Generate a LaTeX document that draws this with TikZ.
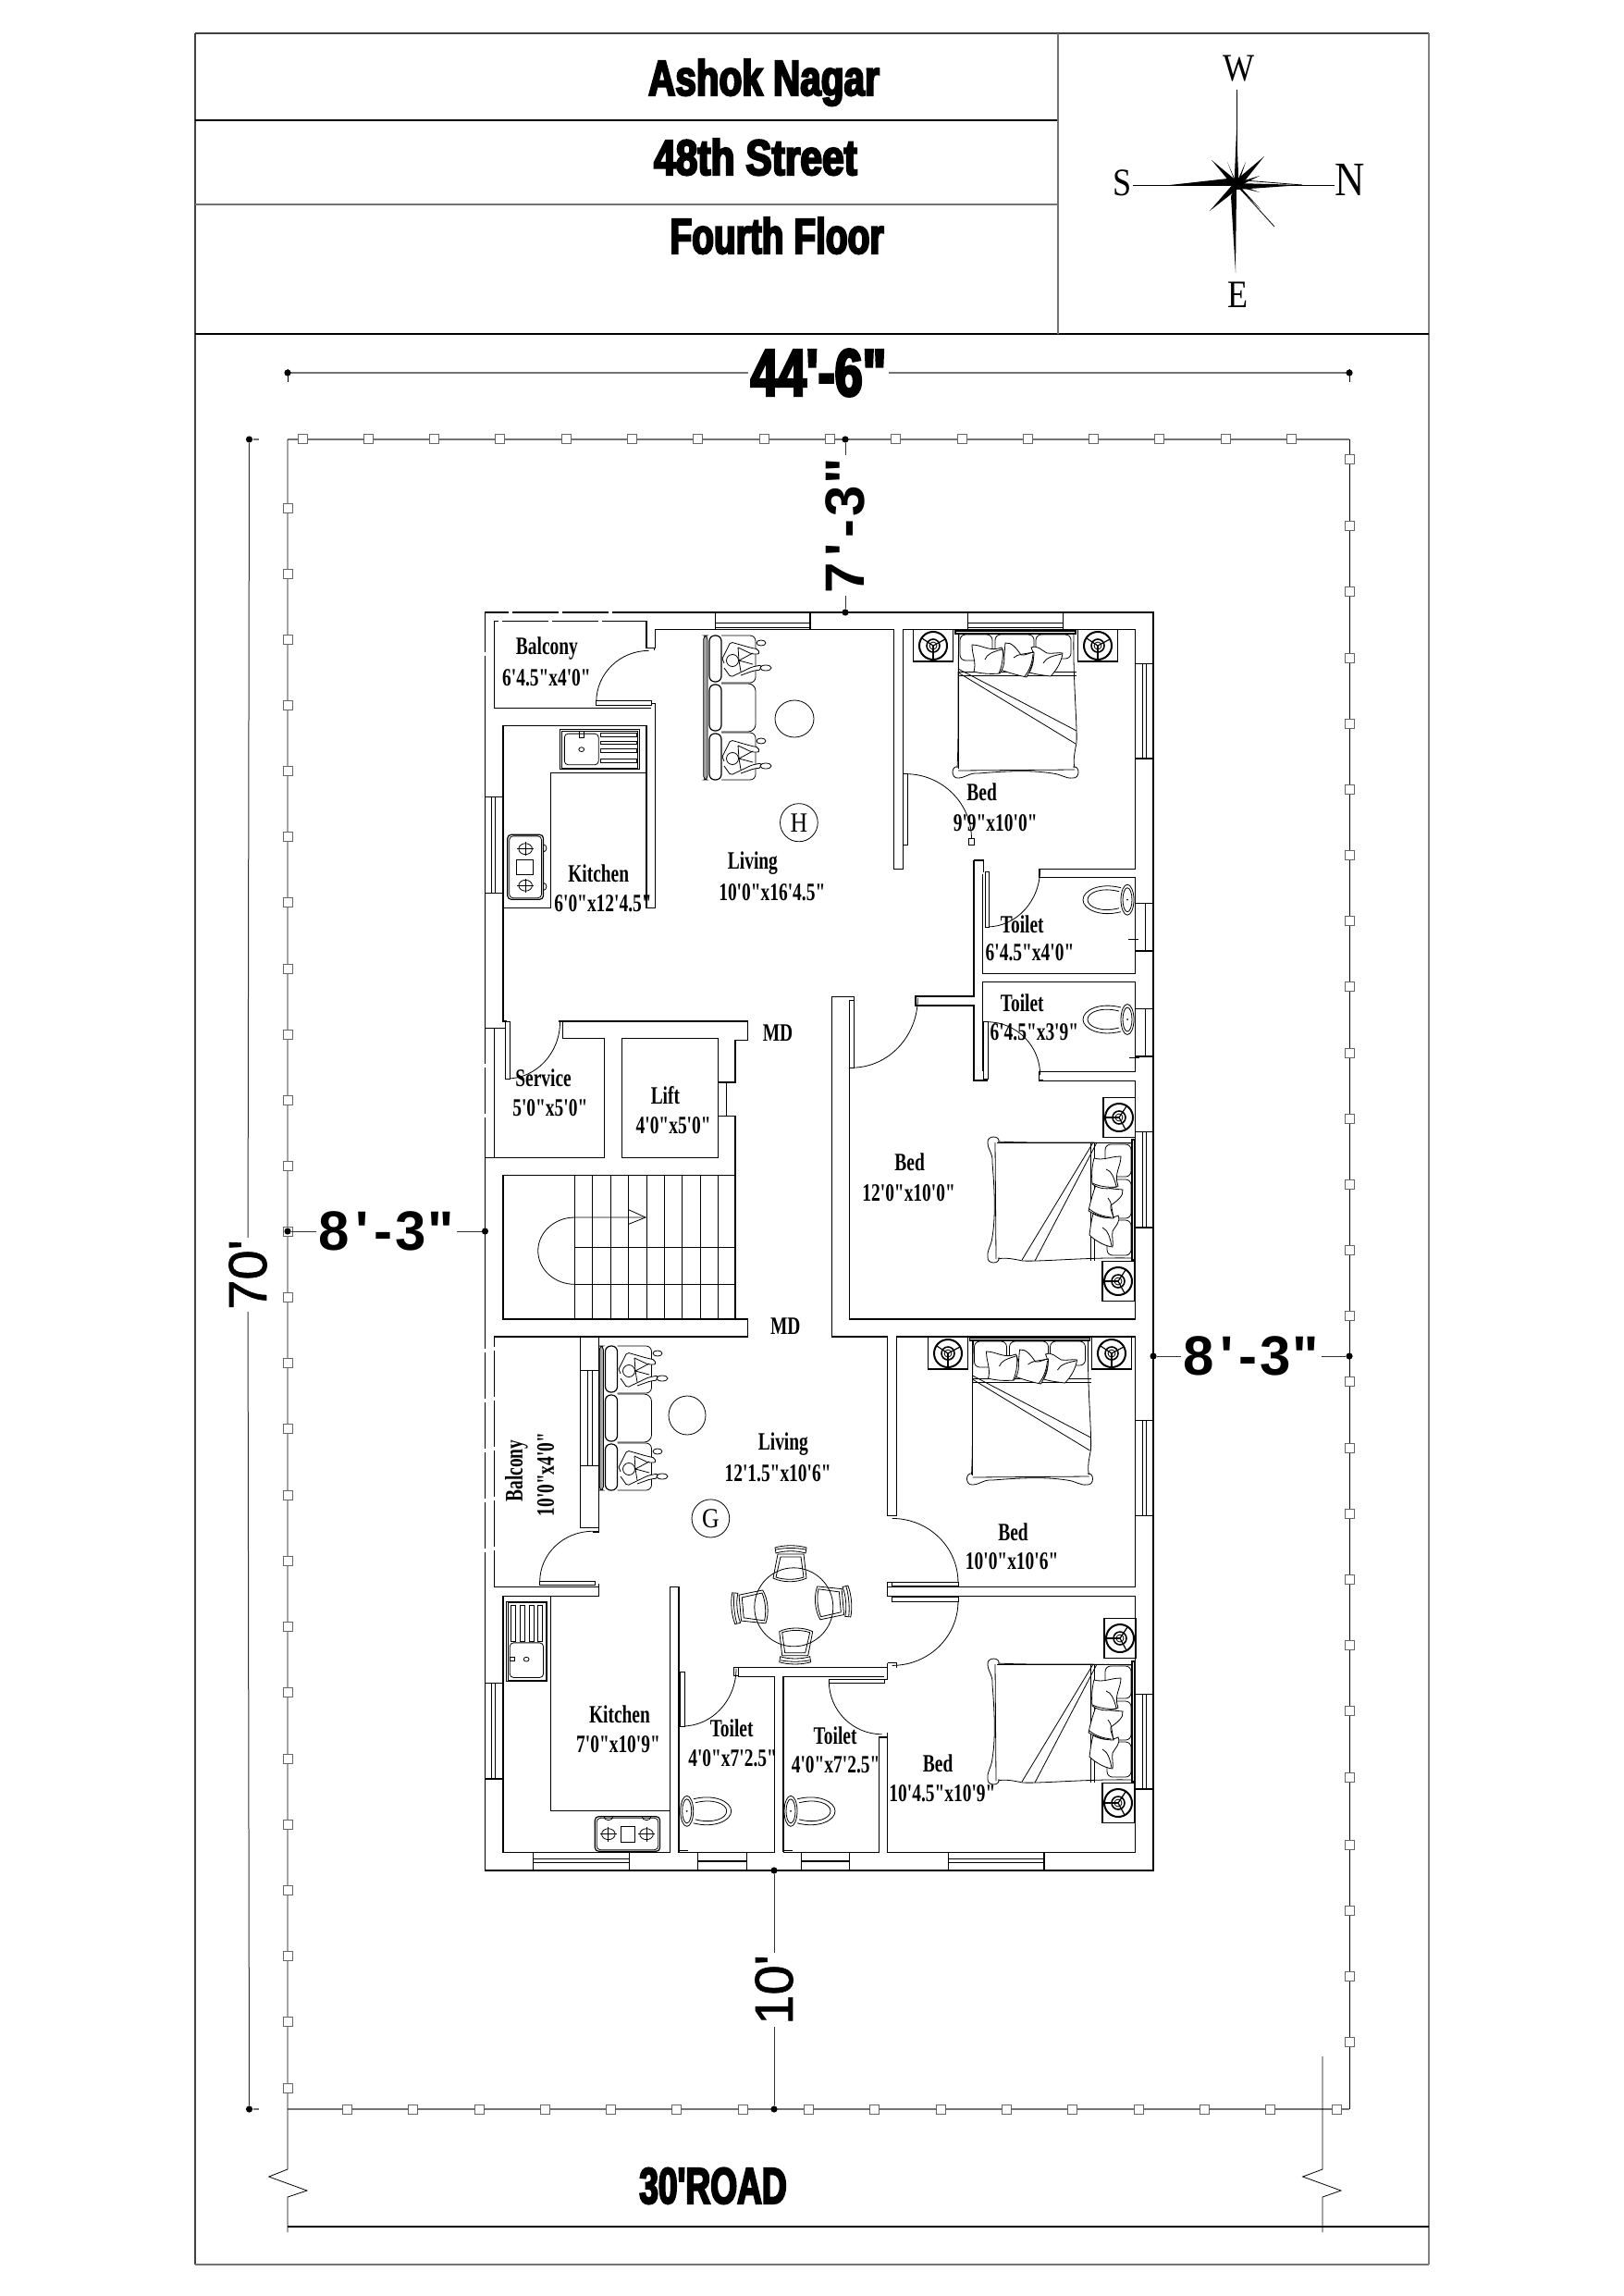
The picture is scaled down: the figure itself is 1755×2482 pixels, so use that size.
\documentclass[tikz,border=0pt]{standalone}
\usepackage{fontspec}
\usepackage{tikz}
\newfontfamily\roomfont[UprightFont=* Bold,FakeStretch=0.72]{Liberation Serif}
\newfontfamily\heavyfont[UprightFont=* Bold,FakeStretch=0.75,FakeBold=4]{Liberation Sans}
\newfontfamily\dimfont{Liberation Sans}
\newfontfamily\plainfont[FakeBold=1.2]{Liberation Sans}
\newfontfamily\compassfont[FakeStretch=0.86]{Liberation Serif}
\newcommand{\dimtext}[2]{#1\kern3pt'\kern3pt-\kern1.5pt#2\kern1pt"}

\tikzset{
  wall/.style={line width=0.6pt},
  fine/.style={line width=0.4pt},
  leaf/.style={line width=0.4pt, fill=white},
  frameline/.style={line width=0.8pt, black!75},
  plotline/.style={line width=0.9pt, black!55},
  dimline/.style={line width=0.5pt, black!80},
  gapmark/.style={white, line width=1pt, dash pattern=on 2pt off 25pt},
  post/.style={shape=rectangle, draw=black!60, fill=white, line width=0.5pt, minimum size=5pt, inner sep=0pt},
  endmark/.style={shape=circle, fill=black, minimum size=3.6pt, inner sep=0pt},
  room/.style={font=\roomfont\fontsize{13.5}{13.5}\selectfont, inner sep=0pt},
  roundhead/.style={font=\compassfont\fontsize{21}{21}\selectfont, inner sep=0pt},
  titletext/.style={anchor=base, font=\heavyfont\fontsize{27}{27}\selectfont, inner sep=0pt, transform shape},
  bigdim/.style={font=\heavyfont\fontsize{36}{36}\selectfont, inner sep=1pt},
  sidedim/.style={font=\dimfont\bfseries\fontsize{30}{30}\selectfont, inner sep=1pt},
  plaindim/.style={font=\plainfont\fontsize{29}{29}\selectfont, inner sep=1pt},
  upperplan/.style={shift={(510,650)}, x=0.24237pt, y=-0.19771pt},
  midplan/.style={shift={(510,1060)}, x=0.24237pt, y=-0.16667pt},
  lowerplan/.style={shift={(510,1420)}, x=0.24237pt, y=-0.19771pt},
  pics/lampset/.style={code={
    \draw[wall] (-21.5,-17.5) rectangle (21.5,17);
    \draw[line width=1pt] (0,0) circle (15);
    \draw[line width=0.8pt] (0,0) circle (7);
    \draw[fine] (0,0) circle (4);
    \draw[wall] (0,0) -- (-12,-8);
    \draw[wall] (0,0) -- (13,-7);
    \draw[wall] (0,0) -- (0,15);
  }},
  pics/bedset/.style={code={
    \draw[fine, rounded corners=3pt] (-60,3) rectangle (-25,31);
    \draw[fine, rounded corners=3pt] (-22,3) rectangle (20,31);
    \draw[fine, rounded corners=3pt] (22,3) rectangle (60,29);
    \draw[wall] (-65,-1) rectangle (65,2);
    \draw[fine] (-62,2) -- (-62,148);
    \draw[fine] (-61,2) .. controls (-63,60) and (-61,110) .. (-63,147);
    \draw[fine] (63,2) .. controls (62,50) and (67,100) .. (66,120) .. controls (64,130) and (62,140) .. (64,147);
    \draw[fine] (-62,146) .. controls (-70,144) and (-70,159) .. (-62,158) .. controls (-54,158) and (-50,152) .. (-40,153) .. controls (-15,151) and (15,149) .. (40,153) .. controls (50,154) and (54,159) .. (62,158) .. controls (70,159) and (70,144) .. (62,146);
    \draw[fine] (-62,150) -- (64,149);
    \draw[fine] (-62,43) -- (66,43);
    \draw[fine] (-62,47) -- (66,47);
    \draw[fine] (-62,40) -- (66,107);
    \draw[fine] (-62,44) -- (65,121);
    \draw[fine, fill=white] (17,17) .. controls (24,14) and (28,20) .. (34,23) .. controls (40,24) and (46,22) .. (51,23) .. controls (50,32) and (44,42) .. (38,48) .. controls (30,47) and (22,46) .. (15,44) .. controls (20,35) and (21,25) .. cycle;
    \draw[fine, fill=white] (-11,12) .. controls (-4,11) and (1,18) .. (6,25) .. controls (11,26) and (16,22) .. (20,22) .. controls (20,32) and (16,42) .. (12,49) .. controls (2,47) and (-8,44) .. (-16,41) .. controls (-12,32) and (-12,22) .. cycle;
    \draw[fine, fill=white] (-47,14) .. controls (-36,14) and (-28,22) .. (-15,17) .. controls (-10,28) and (-12,38) .. (-17,45) .. controls (-28,46) and (-38,45) .. (-45,43) .. controls (-42,33) and (-47,25) .. cycle;
    \draw[fine] (-33,30) .. controls (-31,24) and (-25,22) .. (-15,19);
    \draw[fine] (-14,18) .. controls (-13,30) and (-15,38) .. (-18,45);
    \draw[fine] (-2,28) .. controls (2,24) and (10,24) .. (20,22);
    \draw[fine] (19,24) .. controls (18,34) and (15,42) .. (10,48);
    \draw[fine] (30,34) .. controls (33,28) and (40,26) .. (50,24);
  }},
  pics/sofaset/.style={code={
    \draw[fine, fill=black!35, rounded corners=2pt] (-29.3,-78) rectangle (-25,78);
    \draw[wall, rounded corners=3pt] (-23,-78) rectangle (-10,-28);
    \draw[wall, rounded corners=3pt] (-23,-25) rectangle (-10,25);
    \draw[wall, rounded corners=3pt] (-23,28) rectangle (-10,78);
    \draw[fine, rounded corners=3pt] (-10,-78) -- (27,-78) -- (27,-27) -- (-10,-27);
    \draw[fine, rounded corners=4pt] (-10,-26) -- (27,-26) -- (27,26) -- (-10,26);
    \draw[fine, rounded corners=3pt] (-10,27) -- (27,27) -- (27,78) -- (-10,78);
  }},
  pics/sitter/.style={code={
    \draw[fine, fill=white, rounded corners=1pt] (-22,0) -- (-13,-18) -- (8,-12) -- (17,-10) -- (18,-5) -- (10,-5) -- (-5,-12);
    \draw[fine, fill=white, rounded corners=1pt] (-20,5) -- (-22,0);
    \draw[fine, fill=white, rounded corners=1pt] (-20,10) -- (-13,20) -- (10,9) -- (20,7) -- (20,12) -- (12,13) -- (-2,18);
    \draw[fine] (-5,-12) -- (-4,2) -- (11,-6);
    \draw[fine] (-4,2) -- (11,6);
    \draw[fine] (-4,2) -- (-2,14);
    \draw[fine, fill=white] (-11,2) ellipse (6.5 and 6.5);
    \draw[fine, fill=white] (20,-17) ellipse (5 and 3);
    \draw[fine, fill=white] (25,10) ellipse (6 and 3);
  }},
  pics/chairset/.style={code={
    \draw[fine] (-13,-13) -- (15,-13) -- (18,13) .. controls (8,18) and (-8,18) .. (-18,13) -- cycle;
    \draw[fine] (-10,-10) -- (12,-10) -- (15,12) .. controls (6,15) and (-6,15) .. (-15,12) -- cycle;
    \draw[fine] (-16,-20) .. controls (-6,-23) and (8,-23) .. (18,-20) -- (17,-14) .. controls (8,-17) and (-6,-17) .. (-15,-14) -- cycle;
    \draw[fine] (-15,-18) .. controls (-6,-20) and (8,-20) .. (17,-18);
  }},
  pics/toiletset/.style={code={
    \draw[fine] (-7,-13) .. controls (-30,-19) and (-48,-10) .. (-48,0) .. controls (-48,10) and (-30,19) .. (-7,13);
    \draw[fine] (-9,-9) .. controls (-28,-14) and (-43,-8) .. (-43,0) .. controls (-43,8) and (-28,14) .. (-9,9);
    \draw[fine, fill=white] (0,0) ellipse (7 and 16.5);
    \draw[fine] (0,0) ellipse (5 and 13);
    \fill (0,0) circle (1);
  }}
}

\begin{document}
\begin{tikzpicture}[x=0.5pt, y=-0.5pt]
  \useasboundingbox (0,0) rectangle (1755,2482);
  \draw[frameline] (211,36) -- (1545,36);
  \draw[frameline] (211,36) -- (211,2448);
  \draw[frameline, black!50] (1545,36) -- (1545,2448);
  \draw[frameline, black!55] (211,2448) -- (1545,2448);
  \draw[frameline, black] (211,130) -- (1144,130);
  \draw[frameline, black!55] (211,221) -- (1144,221);
  \draw[frameline, black] (211,361) -- (1545,361);
  \draw[frameline, black!55] (1144,36) -- (1144,361);

  \node (ashok) at (826,103) [titletext] {Ashok Nagar};
  \node (street) at (817,189) [titletext, xscale=1.05] {48th Street};
  \node (floor) at (840,274) [titletext, xscale=0.96] {Fourth Floor};

  \coordinate (star) at (1337,200);
  \coordinate (starw) at (1337,97);
  \coordinate (stare) at (1336,295);
  \coordinate (stars) at (1225,200);
  \coordinate (starn) at (1443,200);
  \draw[fine] (star) -- (starw);
  \draw[fine] (stars) -- (starn);
  \fill (1334.5,200) -- (1337,140) -- (1339.5,200) -- cycle;
  \fill (star) -- (1331,212) -- (stare) -- cycle;
  \fill (star) -- (1265,200) -- (1328,193) -- cycle;
  \fill (1337,198) -- (1408,200) -- (1337,205) -- cycle;
  \draw[fine] (1345,195) -- (1408,200);
  \fill (1334,202) -- (1310,173) -- (1339,197) -- cycle;
  \fill (1335,196) -- (1367,169) -- (1340,203) -- cycle;
  \fill (1335,197) -- (1308,228) -- (1340,203) -- cycle;
  \fill (1334,198) -- (1363,226) -- (1340,201) -- cycle;
  \fill (1336,198) -- (1327,175) -- (1338,200) -- cycle;
  \fill (1336,200) -- (1347,175) -- (1339,199) -- cycle;
  \fill (1336,198) -- (1362,190) -- (1338,202) -- cycle;
  \fill (1336,198) -- (1362,208) -- (1338,202) -- cycle;
  \draw[fine] (star) -- (1378,245);
  \node (markw) at (1340,74) [roundhead] {W};
  \node (marke) at (1339,319) [roundhead] {E};
  \node (marks) at (1214,198) [roundhead] {S};
  \node (markn) at (1460,194) [roundhead, font=\compassfont\fontsize{26}{26}\selectfont] {N};

  \draw[plotline] (311,475) -- (1459,475);
  \draw[plotline] (311,2280) -- (1459,2280);
  \draw[fine] (311,475) -- (311,2345) -- (290.7,2353) -- (332,2368) -- (311,2375) -- (311,2413);
  \draw[fine] (1459,475) -- (1459,2280);
  \draw[fine] (1430,2223) -- (1430,2345) -- (1408.6,2353) -- (1450,2368) -- (1430,2375) -- (1430,2413);
  \draw[wall] (311,2407) -- (1545,2407);

  \node (top1) at (327,475) [post] {};
  \node (top2) at (398,475) [post] {};
  \node (top3) at (469.4,475) [post] {};
  \node (top4) at (540.7,475) [post] {};
  \node (top5) at (612,475) [post] {};
  \node (top6) at (683,475) [post] {};
  \node (top7) at (754.6,475) [post] {};
  \node (top8) at (826,475) [post] {};
  \node (top9) at (897,475) [post] {};
  \node (top10) at (968.5,475) [post] {};
  \node (top11) at (1040,475) [post] {};
  \node (top12) at (1111,475) [post] {};
  \node (top13) at (1182.4,475) [post] {};
  \node (top14) at (1253.7,475) [post] {};
  \node (top15) at (1325,475) [post] {};
  \node (top16) at (1396,475) [post] {};
  \node (bot1) at (375,2280) [post] {};
  \node (bot2) at (446.5,2280) [post] {};
  \node (bot3) at (518,2280) [post] {};
  \node (bot4) at (589,2280) [post] {};
  \node (bot5) at (660,2280) [post] {};
  \node (bot6) at (731.7,2280) [post] {};
  \node (bot7) at (803,2280) [post] {};
  \node (bot8) at (874,2280) [post] {};
  \node (bot9) at (945.6,2280) [post] {};
  \node (bot10) at (1017,2280) [post] {};
  \node (bot11) at (1088,2280) [post] {};
  \node (bot12) at (1159.6,2280) [post] {};
  \node (bot13) at (1231,2280) [post] {};
  \node (bot14) at (1302,2280) [post] {};
  \node (bot15) at (1373,2280) [post] {};
  \node (bot16) at (1445,2280) [post] {};
  \node (lef1) at (311,549) [post] {};
  \node (lef2) at (311,620) [post] {};
  \node (lef3) at (311,691) [post] {};
  \node (lef4) at (311,762) [post] {};
  \node (lef5) at (311,833) [post] {};
  \node (lef6) at (311,904) [post] {};
  \node (lef7) at (311,975) [post] {};
  \node (lef8) at (311,1047) [post] {};
  \node (lef9) at (311,1118) [post] {};
  \node (lef10) at (311,1189) [post] {};
  \node (lef11) at (311,1260) [post] {};
  \node (lef12) at (311,1331) [post] {};
  \node (lef13) at (311,1402) [post] {};
  \node (lef14) at (311,1473) [post] {};
  \node (lef15) at (311,1544) [post] {};
  \node (lef16) at (311,1616) [post] {};
  \node (lef17) at (311,1687) [post] {};
  \node (lef18) at (311,1758) [post] {};
  \node (lef19) at (311,1829) [post] {};
  \node (lef20) at (311,1901) [post] {};
  \node (lef21) at (311,1972) [post] {};
  \node (lef22) at (311,2043) [post] {};
  \node (lef23) at (311,2114) [post] {};
  \node (lef24) at (311,2185) [post] {};
  \node (lef25) at (311,2257) [post] {};
  \node (rig1) at (1459,497) [post] {};
  \node (rig2) at (1459,568) [post] {};
  \node (rig3) at (1459,639) [post] {};
  \node (rig4) at (1459,711) [post] {};
  \node (rig5) at (1459,782) [post] {};
  \node (rig6) at (1459,853) [post] {};
  \node (rig7) at (1459,924) [post] {};
  \node (rig8) at (1459,995) [post] {};
  \node (rig9) at (1459,1066) [post] {};
  \node (rig10) at (1459,1138) [post] {};
  \node (rig11) at (1459,1209) [post] {};
  \node (rig12) at (1459,1280) [post] {};
  \node (rig13) at (1459,1351) [post] {};
  \node (rig14) at (1459,1422) [post] {};
  \node (rig15) at (1459,1493) [post] {};
  \node (rig16) at (1459,1565) [post] {};
  \node (rig17) at (1459,1636) [post] {};
  \node (rig18) at (1459,1707) [post] {};
  \node (rig19) at (1459,1778) [post] {};
  \node (rig20) at (1459,1849) [post] {};
  \node (rig21) at (1459,1921) [post] {};
  \node (rig22) at (1459,1994) [post] {};
  \node (rig23) at (1459,2065) [post] {};
  \node (rig24) at (1459,2136) [post] {};
  \node (rig25) at (1459,2207) [post] {};

  \draw[wall] (524.5,662) rectangle (1247,2022);
  \draw[gapmark] (550,662) -- (690,662);
  \draw[gapmark] (524.5,1458) -- (524.5,1697);
  \draw[gapmark] (524.5,1150) -- (524.5,1240);
  \draw[gapmark] (524.5,705) -- (524.5,725);

  \begin{scope}[upperplan]
    \draw[wall] (50,292) -- (50,55) -- (390,55) -- (390,128) -- (408,128) -- (408,135);
    \draw[gapmark] (60,55) -- (340,55);
    \draw[wall] (50,292) -- (400,292);
    \draw[wall] (410,128) -- (410,78) -- (942,78) -- (942,732) -- (962,732) -- (962,78) -- (1480,78) -- (1480,732) -- (1265,732) -- (1265,755) -- (1480,755) -- (1480,1017) -- (1140,1017) -- (1140,745);
    \draw[wall] (395,280) -- (410,280) -- (410,838) -- (390,838) -- (390,340) -- (70,340) -- (70,1148) -- (78,1148);
    \draw[wall] (177,838) -- (177,470) -- (390,470);
    \draw[wall] (70,838) -- (177,838);
    \draw[wall] (30,797) -- (70,797);
    \draw[wall] (30,535) rectangle (70,797);
    \draw[fine] (45,535) -- (45,797);
    \draw[fine] (53,535) -- (53,797);
    \draw[wall] (30,1167) -- (75,1167) -- (75,1148);
    \draw[wall] (50,1167) -- (50,1522) -- (296,1522) -- (296,1195) -- (203,1195) -- (203,1148) -- (615,1148) -- (615,1200) -- (588,1200) -- (588,1315) -- (550,1315);
    \draw[wall] (193,1148) -- (203,1148);
    \draw[wall] (30,1522) -- (50,1522);
    \draw[wall] (335,1195) rectangle (550,1522);
    \draw[wall] (568,1315) -- (568,1407);
    \draw[wall] (550,1407) -- (588,1407) -- (588,1570);
    \draw[wall] (1120,708) -- (1142,708) -- (1142,740);
    \draw[wall] (1120,708) -- (1120,1080) -- (990,1080) -- (990,1105) -- (1120,1105) -- (1120,1310) -- (1150,1310) -- (1150,1300);
    \draw[wall] (1140,1040) -- (1480,1040) -- (1480,1285) -- (1265,1285) -- (1265,1310) -- (1275,1310);
    \draw[wall] (1140,1040) -- (1140,1285);
    \draw[wall] (803,1082) -- (853,1082) -- (853,1095);
    \draw[wall] (543,30) rectangle (755,78);
    \draw[fine] (543,58) -- (755,58);
    \draw[fine] (543,72) -- (755,72);
    \draw[wall] (1107,30) rectangle (1320,78);
    \draw[fine] (1107,58) -- (1320,58);
    \draw[fine] (1107,72) -- (1320,72);
    \draw[wall] (1480,170) rectangle (1520,430);
    \draw[fine] (1497,170) -- (1497,430);
    \draw[fine] (1505,170) -- (1505,430);
    \draw[wall] (1480,825) -- (1520,825);
    \draw[line width=1pt] (1480,955) -- (1520,955);
    \draw[fine] (1503,825) -- (1503,955);
    \draw[wall] (1480,1113) -- (1520,1113);
    \draw[line width=1pt] (1480,1245) -- (1520,1245);
    \draw[fine] (1503,1113) -- (1503,1245);
    \draw[fine] (1465,923) -- (1488,923);
    \draw[fine] (1467,1247) -- (1490,1247);
    \draw[fine] (395,135) arc (-90:-180:117 and 140);
    \draw[leaf] (278,272) rectangle (400,285);
    \draw[fine] (968,472) arc (-90:0:147 and 178);
    \draw[leaf] (962,472) rectangle (972,665);
    \draw[leaf] (1108,648) rectangle (1120,665);
    \draw[fine] (1268,732) arc (0:90:118 and 158);
    \draw[leaf] (1145,740) rectangle (1155,890);
    \draw[fine] (995,1085) arc (0:90:147 and 190);
    \draw[leaf] (843,1090) rectangle (853,1275);
    \draw[fine] (1150,1150) arc (-90:0:118 and 145);
    \draw[leaf] (1142,1150) rectangle (1152,1305);
    \draw[fine] (197,1150) arc (0:90:119 and 155);
    \draw[leaf] (75,1150) rectangle (85,1305);
    \draw[fine] (197,350) rectangle (375,460);
    \draw[fine] (201,354) rectangle (371,456);
    \draw[fine, rounded corners=2pt] (207,362) rectangle (283,447);
    \draw[fine] (245,405) ellipse (6 and 6);
    \draw[fine] (240,355) rectangle (250,372);
    \draw[fine] (288,360) rectangle (368,370);
    \draw[fine] (288,382) rectangle (368,391);
    \draw[fine] (288,404) rectangle (368,413);
    \draw[fine] (288,431) rectangle (368,441);
    \draw[wall, rounded corners=2pt] (80,638) rectangle (160,815);
    \draw[fine, rounded corners=2pt] (84,642) rectangle (156,811);
    \draw[fine] (100,707) rectangle (137,747);
    \draw[fine] (120,677) ellipse (15 and 15);
    \draw[fine] (102,677) -- (138,677);
    \draw[fine] (120,658) -- (120,696);
    \draw[fine] (120,777) ellipse (15 and 15);
    \draw[fine] (102,777) -- (138,777);
    \draw[fine] (120,758) -- (120,796);
    \draw[fine] (160,665) arc (-90:90:7 and 10);
    \draw[fine] (160,770) arc (-90:90:7 and 10);
    \node (balconya) at (168,130) [room] {Balcony};
    \node (balconyb) at (167,210) [room] {6'4.5"x4'0"};
    \node (kitchena) at (283,743) [room] {Kitchen};
    \node (kitchenb) at (293,825) [room] {6'0"x12'4.5"};
    \node (livinga) at (627,717) [room] {Living};
    \node (livingb) at (670,797) [room] {10'0"x16'4.5"};
    \node (beda) at (1138,522) [room] {Bed};
    \node (bedb) at (1168,605) [room] {9'9"x10'0"};
    \node (toileta) at (1228,882) [room] {Toilet};
    \node (toiletb) at (1245,960) [room] {6'4.5"x4'0"};
    \node (toiletc) at (1228,1097) [room] {Toilet};
    \node (toiletd) at (1255,1177) [room] {6'4.5"x3'9"};
    \node (mainupper) at (683,1180) [room] {MD};
    \node (servicea) at (160,1302) [room] {Service};
    \node (serviceb) at (175,1385) [room] {5'0"x5'0"};
    \node (lifta) at (432,1350) [room] {Lift};
    \node (liftb) at (450,1432) [room] {4'0"x5'0"};
    \draw[fine] (730,605) ellipse (42 and 52);
    \node (hmark) at (730,605) [inner sep=0pt, font=\compassfont\fontsize{15}{15}\selectfont] {H};
  \end{scope}

  \begin{scope}[midplan]
    \draw[wall] (803,55) -- (803,1155) -- (928,1155);
    \draw[wall] (843,285) -- (843,1098) -- (1480,1098) -- (1480,325) -- (1265,325);
    \draw[wall] (70,632) rectangle (588,1098);
    \draw[fine] (230,632) -- (230,1098);
    \draw[fine] (270,632) -- (270,1098);
    \draw[fine] (310,632) -- (310,1098);
    \draw[fine] (350,632) -- (350,1098);
    \draw[fine] (390,632) -- (390,1098);
    \draw[fine] (430,632) -- (430,1098);
    \draw[fine] (470,632) -- (470,1098);
    \draw[fine] (510,632) -- (510,1098);
    \draw[fine] (550,632) -- (550,1098);
    \draw[fine] (230,866) -- (588,866);
    \draw[fine] (230,985) -- (588,985);
    \draw[fine] (388,768) -- (230,768) arc (-90:-270:82 and 108.5);
    \draw[fine] (350,743) -- (388,768) -- (350,790);
    \draw[wall] (70,1098) -- (615,1098) -- (615,1155) -- (50,1155);
    \draw[wall] (1480,490) rectangle (1520,800);
    \draw[fine] (1497,490) -- (1497,800);
    \draw[fine] (1505,490) -- (1505,800);
    \draw[line width=1pt] (1480,800) -- (1520,800);
    \node (bedc) at (977,590) [room] {Bed};
    \node (bedd) at (975,688) [room] {12'0"x10'0"};
    \node (mainlower) at (700,1120) [room] {MD};
  \end{scope}

  \begin{scope}[lowerplan]
    \draw[wall] (50,63) -- (50,748) -- (283,748);
    \draw[gapmark] (50,90) -- (50,700);
    \draw[wall] (243,63) -- (243,585) -- (283,585) -- (283,597) -- (270,597);
    \draw[wall] (283,63) -- (283,585);
    \draw[wall] (243,155) rectangle (283,415);
    \draw[fine] (258,155) -- (258,415);
    \draw[fine] (268,155) -- (268,415);
    \draw[wall] (283,738) -- (283,772) -- (70,772) -- (70,1473) -- (443,1473) -- (443,748) -- (462,748) -- (462,1473) -- (676,1473) -- (676,993) -- (595,993) -- (595,968) -- (928,968);
    \draw[wall] (177,772) -- (177,1360) -- (443,1360);
    \draw[wall] (595,968) -- (585,968) -- (585,990) -- (595,990);
    \draw[wall] (695,1473) -- (695,993) -- (920,993);
    \draw[wall] (695,1473) -- (908,1473) -- (908,1158) -- (928,1158) -- (928,1473) -- (1480,1473) -- (1480,772) -- (928,772) -- (928,735) -- (948,735);
    \draw[wall] (928,63) -- (928,552) -- (948,552) -- (948,63) -- (1480,63) -- (1480,748) -- (928,748);
    \draw[wall] (928,955) -- (928,1000) -- (920,1000);
    \draw[wall] (928,955) -- (948,955) -- (948,968);
    \draw[wall] (928,1145) -- (928,1158);
    \draw[wall] (30,1010) rectangle (70,1272);
    \draw[fine] (45,1010) -- (45,1272);
    \draw[fine] (53,1010) -- (53,1272);
    \draw[wall] (1480,292) rectangle (1520,553);
    \draw[fine] (1497,292) -- (1497,553);
    \draw[fine] (1505,292) -- (1505,553);
    \draw[wall] (1480,1040) rectangle (1520,1300);
    \draw[fine] (1497,1040) -- (1497,1300);
    \draw[fine] (1505,1040) -- (1505,1300);
    \draw[wall] (137,1473) rectangle (351,1523);
    \draw[line width=0.5pt] (137,1492) -- (351,1492);
    \draw[line width=0.5pt] (137,1500) -- (351,1500);
    \draw[wall] (505,1473) rectangle (613,1523);
    \draw[line width=0.6pt] (505,1497) -- (613,1497);
    \draw[wall] (736,1473) rectangle (843,1523);
    \draw[line width=0.6pt] (736,1497) -- (843,1497);
    \draw[wall] (1063,1473) rectangle (1277,1523);
    \draw[line width=0.5pt] (1063,1492) -- (1277,1492);
    \draw[line width=0.5pt] (1063,1500) -- (1277,1500);
    \draw[fine] (462,1468) -- (483,1468);
    \draw[fine] (695,1468) -- (715,1468);
    \draw[fine] (270,595) arc (-90:-180:118 and 138);
    \draw[leaf] (152,733) rectangle (275,742);
    \draw[fine] (938,560) arc (-90:0:147 and 175);
    \draw[leaf] (938,735) rectangle (1085,745);
    \draw[fine] (1085,787) arc (0:90:147 and 175);
    \draw[leaf] (938,775) rectangle (1085,787);
    \draw[fine] (590,970) arc (0:90:120 and 158);
    \draw[leaf] (465,980) rectangle (475,1128);
    \draw[fine] (797,1005) arc (180:90:118 and 145);
    \draw[leaf] (797,1000) rectangle (920,1010);
    \draw[fine] (78,787) rectangle (168,1005);
    \draw[fine] (81,790) rectangle (165,1002);
    \draw[fine, rounded corners=2pt] (85,900) rectangle (160,995);
    \draw[fine] (122,945) ellipse (6 and 6);
    \draw[fine] (85,940) rectangle (96,950);
    \draw[fine] (88,797) rectangle (98,895);
    \draw[fine] (108,797) rectangle (118,895);
    \draw[fine] (128,797) rectangle (138,895);
    \draw[fine] (148,797) rectangle (158,895);
    \draw[wall, rounded corners=2pt] (275,1375) rectangle (420,1470);
    \draw[fine, rounded corners=2pt] (279,1379) rectangle (416,1466);
    \draw[fine] (332,1402) rectangle (363,1445);
    \draw[fine] (305,1423) ellipse (15 and 15);
    \draw[fine] (287,1423) -- (323,1423);
    \draw[fine] (305,1403) -- (305,1443);
    \draw[fine] (390,1423) ellipse (15 and 15);
    \draw[fine] (372,1423) -- (408,1423);
    \draw[fine] (390,1403) -- (390,1443);
    \draw[fine] (295,1375) arc (180:0:10 and 10);
    \draw[fine] (380,1375) arc (180:0:10 and 10);
    \node (livingc) at (695,358) [room] {Living};
    \node (livingd) at (683,437) [room] {12'1.5"x10'6"};
    \node (balconyc) at (100,430) [room, rotate=90] {Balcony};
    \node (balconyd) at (165,440) [room, rotate=90] {10'0"x4'0"};
    \draw[fine] (533,560) ellipse (42 and 52);
    \node (gmark) at (533,560) [inner sep=0pt, font=\compassfont\fontsize{15}{15}\selectfont] {G};
    \node (bede) at (1208,597) [room] {Bed};
    \node (bedf) at (1205,677) [room] {10'0"x10'6"};
    \node (kitchenc) at (330,1095) [room] {Kitchen};
    \node (kitchend) at (327,1177) [room] {7'0"x10'9"};
    \node (toilete) at (580,1133) [room] {Toilet};
    \node (toiletf) at (582,1215) [room] {4'0"x7'2.5"};
    \node (toiletg) at (811,1153) [room] {Toilet};
    \node (toileth) at (812,1233) [room] {4'0"x7'2.5"};
    \node (bedg) at (1040,1230) [room] {Bed};
    \node (bedh) at (1050,1313) [room] {10'4.5"x10'9"};
  \end{scope}

  \pic at (1009,698) {lampset};
  \pic at (1187,698) {lampset};
  \pic at (1098,683) {bedset};
  \pic at (1025,1463) {lampset};
  \pic at (1202,1463) {lampset};
  \pic at (1113.5,1447) {bedset};
  \pic[rotate=-90] at (1210,1208) {lampset};
  \pic[rotate=-90] at (1209,1385) {lampset};
  \pic[rotate=-90] at (1226,1297) {bedset};
  \pic[rotate=-90] at (1211,1771) {lampset};
  \pic[rotate=-90] at (1209,1949) {lampset};
  \pic[rotate=-90] at (1226,1861) {bedset};
  \pic at (790,765) {sofaset};
  \pic at (803,712) {sitter};
  \pic at (803,818) {sitter};
  \draw[fine] (859,777) ellipse (21 and 20);
  \pic at (677.5,1533) {sofaset};
  \pic at (691,1480) {sitter};
  \pic at (691,1586) {sitter};
  \draw[fine] (743,1530) ellipse (20 and 21);
  \draw[fine] (858.3,1737.3) circle (42.5);
  \pic at (854,1693) {chairset};
  \pic[rotate=180] at (860.7,1776.7) {chairset};
  \pic[rotate=95] at (813.3,1738) {chairset};
  \pic[rotate=-85] at (898.3,1731.7) {chairset};
  \pic at (1219,972.7) {toiletset};
  \pic at (1219,1102) {toiletset};
  \pic[rotate=180] at (742.7,1957.8) {toiletset};
  \pic[rotate=180] at (855,1957.8) {toiletset};

  \coordinate (widthl) at (311,403);
  \coordinate (widthr) at (1459,403);
  \node (width) at (885,403) [bigdim] {44'-6"};
  \draw[plotline] (widthl) -- (width);
  \draw[plotline] (width) -- (widthr);
  \draw[fine] (311,399) -- (311,413);
  \draw[fine] (1459,399) -- (1459,413);
  \node (widthla) at (widthl) [endmark] {};
  \node (widthra) at (widthr) [endmark] {};

  \node (lengtha) at (269.5,475) [endmark] {};
  \node (lengthb) at (269.5,2280) [endmark] {};
  \node (length) at (268,1378) [plaindim, rotate=90] {70'};
  \draw[dimline] (lengtha) -- (length);
  \draw[dimline] (length) -- (lengthb);
  \draw[plotline] (lengtha) -- (280,475);
  \draw[plotline] (lengthb) -- (280,2280);

  \node (topa) at (914,475) [endmark] {};
  \node (topb) at (914,662) [endmark] {};
  \node (topset) at (914,568) [sidedim, rotate=90] {\dimtext{7}{3}};
  \draw[dimline] (topa) -- (topset);
  \draw[dimline] (topset) -- (topb);

  \node (lefta) at (311,1331) [endmark] {};
  \node (leftb) at (524.5,1331) [endmark] {};
  \node (leftset) at (418,1331) [sidedim] {\dimtext{8}{3}};
  \draw[dimline] (lefta) -- (leftset);
  \draw[dimline] (leftset) -- (leftb);

  \node (righta) at (1247,1466) [endmark] {};
  \node (rightb) at (1459,1466) [endmark] {};
  \node (rightset) at (1353,1466) [sidedim] {\dimtext{8}{3}};
  \draw[dimline] (righta) -- (rightset);
  \draw[dimline] (rightset) -- (rightb);

  \node (fronta) at (837,2022) [endmark] {};
  \node (frontb) at (837,2280) [endmark] {};
  \node (frontset) at (837,2151) [plaindim, rotate=90] {10'};
  \draw[dimline] (fronta) -- (frontset);
  \draw[dimline] (frontset) -- (frontb);

  \node (road) at (771,2363) [bigdim, font=\heavyfont\fontsize{27.5}{27.5}\selectfont, xscale=0.9, transform shape] {30'ROAD};
\end{tikzpicture}
\end{document}
